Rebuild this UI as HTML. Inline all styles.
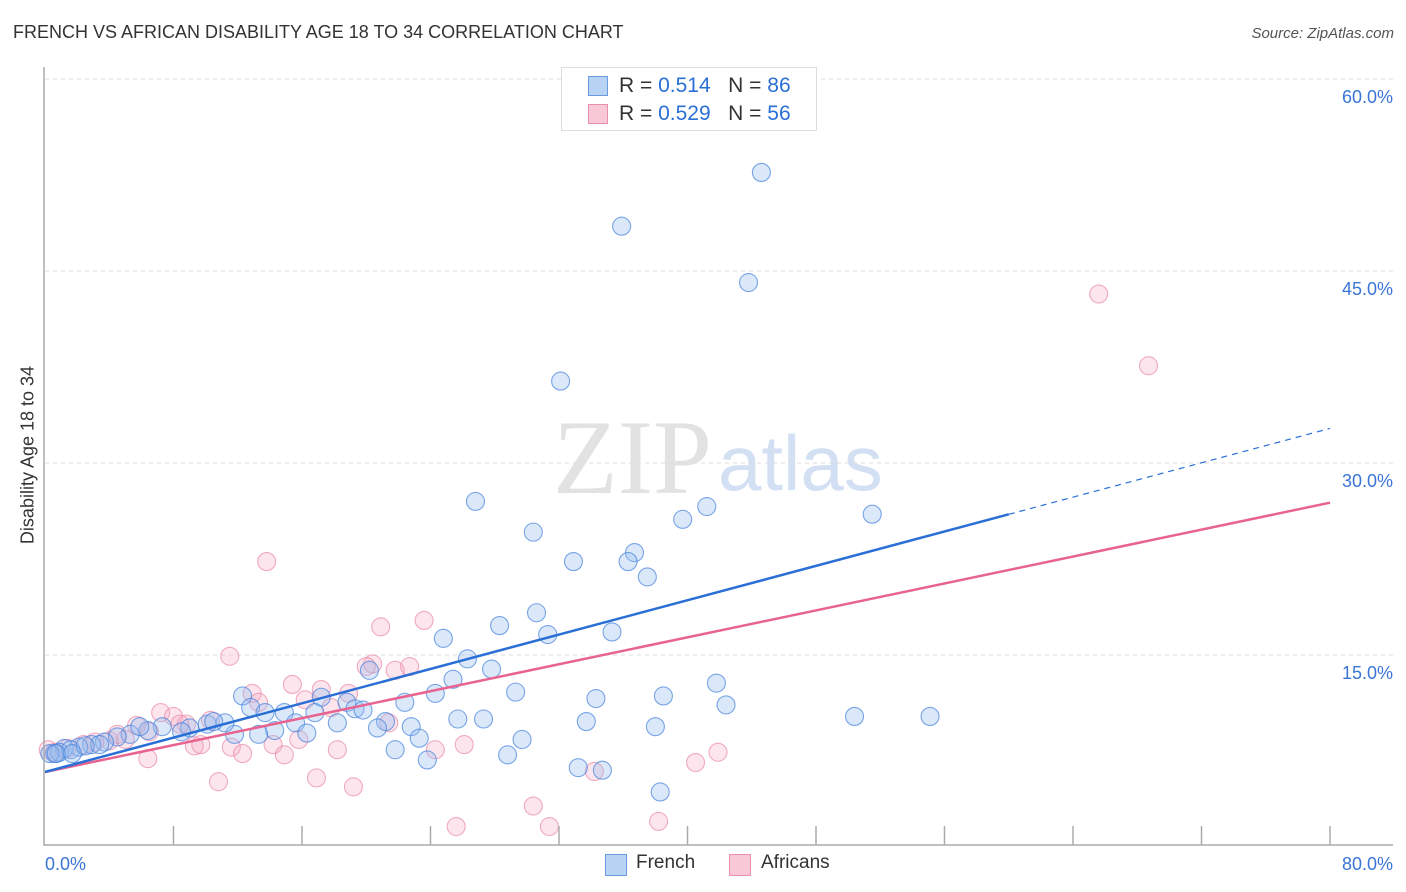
<!DOCTYPE html>
<html><head><meta charset="utf-8">
<style>
html,body{margin:0;padding:0;background:#fff;}
body{width:1406px;height:892px;position:relative;overflow:hidden;font-family:"Liberation Sans",sans-serif;}
.t{position:absolute;white-space:nowrap;}
</style></head><body>
<div class="t" style="left:13px;top:22px;font-size:18px;color:#333;">FRENCH VS AFRICAN DISABILITY AGE 18 TO 34 CORRELATION CHART</div>
<div class="t" style="right:12px;top:25px;font-size:15px;color:#555;font-style:italic;">Source: ZipAtlas.com</div>
<svg id="chart" width="1406" height="892" style="position:absolute;left:0;top:0;">
<text x="553" y="493" font-family="Liberation Serif,serif" font-size="106" fill="#e2e2e2">ZIP</text>
<text x="718" y="490" font-family="Liberation Sans,sans-serif" font-size="78" fill="#d3e0f3">atlas</text>
<g id="grid"></g><g id="marks"></g><g id="lines"></g><g id="axes"></g>
</svg>
<div style="position:absolute;left:561px;top:67px;width:254px;height:62px;border:1px solid #ddd;background:#fff;">
 <div style="position:absolute;left:26px;top:8px;width:18px;height:18px;background:#b9d3f5;border:1px solid #6a9be0;"></div>
 <div class="t" style="left:57px;top:6px;font-size:21px;color:#333;">R = <span style="color:#2a6fd6">0.514</span> &nbsp;&nbsp;N = <span style="color:#2a6fd6">86</span></div>
 <div style="position:absolute;left:26px;top:36px;width:18px;height:18px;background:#f9c8d6;border:1px solid #e890aa;"></div>
 <div class="t" style="left:57px;top:34px;font-size:21px;color:#333;">R = <span style="color:#2a6fd6">0.529</span> &nbsp;&nbsp;N = <span style="color:#2a6fd6">56</span></div>
</div>
<div style="position:absolute;left:605px;top:854px;width:20px;height:20px;background:#b9d3f5;border:1px solid #6a9be0;"></div>
<div class="t" style="left:636px;top:852px;font-size:19px;color:#333;">French</div>
<div style="position:absolute;left:729px;top:854px;width:20px;height:20px;background:#f9c8d6;border:1px solid #e890aa;"></div>
<div class="t" style="left:761px;top:852px;font-size:19px;color:#333;">Africans</div>
<div class="t" style="left:28px;top:455px;font-size:18px;color:#333;transform:translate(-50%,-50%) rotate(-90deg);">Disability Age 18 to 34</div>
<script>
const yTicks=[15,30,45,60];
const yTickLabels=["15.0%","30.0%","45.0%","60.0%"];
const xTickLabels=["0.0%","80.0%"];
const frenchX=[44.6,35.9,43.8,32.1,26.8,30.4,39.7,41.2,51.5,32.9,36.7,36.3,37.5,30.6,28.3,31.3,35.3,24.8,26.3,27.8,20.2,25.4,24.3,29.3,34.3,38.5,41.8,42.4,22.4,17.2,18.8,19.3,12.3,12.8,14.9,13.7,16.8,18.2,19.8,21.2,15.6,16.3,14.3,13.3,11.8,10.1,11.2,10.5,9.0,8.5,7.3,6.4,5.3,4.5,3.7,2.9,2.1,1.2,0.6,0.9,0.3,1.6,25.7,27.3,22.8,20.7,23.3,33.7,38.0,50.4,55.1,21.8,23.8,28.8,29.7,33.2,34.7,38.3,5.9,3.4,2.5,1.7,0.7];
const frenchY=[52.7,48.5,44.1,36.4,27.0,24.6,25.6,26.6,26.0,22.3,23.0,22.3,21.1,18.3,17.3,16.6,16.8,16.3,14.7,13.9,13.8,13.1,12.0,12.1,11.6,11.8,12.8,11.1,11.3,11.7,11.3,10.8,11.8,10.9,10.5,10.5,10.5,9.7,10.7,9.8,9.7,8.9,9.1,8.8,8.8,9.6,9.7,9.8,9.3,9.0,9.4,9.1,8.8,8.6,8.2,8.0,7.8,7.7,7.3,7.4,7.3,7.6,10.0,10.0,9.4,9.3,8.5,9.8,9.4,10.2,10.2,7.6,6.8,7.2,8.4,6.2,6.0,4.3,9.4,8.0,7.9,7.3,7.3];
const africanX=[65.6,68.7,13.8,11.5,20.9,23.6,20.4,20.0,21.8,22.7,15.4,17.2,18.9,12.9,13.3,17.8,21.4,16.2,7.2,8.0,8.8,10.3,8.4,5.7,6.5,9.3,9.7,11.6,12.3,14.2,15.8,18.2,14.9,6.4,10.8,16.9,19.2,24.3,26.1,34.2,40.5,41.9,30.4,25.6,31.4,38.2,5.0,4.0,3.1,2.4,1.4,0.6,0.2,4.5];
const africanY=[43.2,37.6,22.3,14.9,17.2,17.7,14.3,14.1,13.8,14.1,12.7,12.3,12.0,12.0,11.3,10.9,9.7,11.5,10.5,10.2,9.6,9.9,9.6,9.5,9.0,7.9,8.0,7.8,7.3,8.0,8.4,7.6,7.2,6.9,5.1,5.4,4.7,7.6,8.0,5.9,6.6,7.4,3.2,1.6,1.6,2.0,8.4,8.3,8.2,8.0,7.7,7.4,7.6,8.8];
const frenchTrend=[5.86,32.7];   // value at x=0 and x=80
const africanTrend=[5.86,26.9];
const frenchSolidEnd=60;
const NS="http://www.w3.org/2000/svg";
const X0=45,X1=1330,Y0=847,PY=12.8;
const sx=v=>X0+(v/80)*(X1-X0);
const sy=v=>Y0-v*PY;
function mk(tag,attrs,parent){const e=document.createElementNS(NS,tag);for(const k in attrs)e.setAttribute(k,attrs[k]);parent.appendChild(e);return e;}
const grid=document.getElementById('grid'),marks=document.getElementById('marks'),lines=document.getElementById('lines'),axes=document.getElementById('axes');
yTicks.forEach((t,i)=>{
 const l=mk('line',{x1:45,x2:1393,y1:sy(t),y2:sy(t),stroke:'#ddd','stroke-dasharray':'4,4'},grid);
 
 
 const tx=mk('text',{x:1393,y:sy(t)+24,'text-anchor':'end','font-size':18,fill:'#3a75d6','font-family':'Liberation Sans,sans-serif'},axes);
 tx.textContent=yTickLabels[i];
 
 
});
const ax=mk('path',{d:`M44,67 V845 H1393`,fill:'none',stroke:'#aaa','stroke-width':1.5},axes);


for(let i=1;i<=10;i++){
 const tk=mk('line',{x1:sx(i*8),x2:sx(i*8),y1:826,y2:845,stroke:'#aaa','stroke-width':1.5},axes);
 
 
}
[[0,'start',45],[80,'end',1393]].forEach((a,i)=>{
 const tx=mk('text',{x:a[2],y:870,'text-anchor':a[1],'font-size':18,fill:'#3a75d6','font-family':'Liberation Sans,sans-serif'},axes);
 tx.textContent=xTickLabels[i];
 
 
});
function pts(xs,ys,fill,stroke,name){
 xs.forEach((x,i)=>{
  const c=mk('circle',{cx:sx(x),cy:sy(ys[i]),r:9,fill:fill,stroke:stroke,'stroke-width':1.1},marks);
  
  
 });
}
pts(africanX,africanY,'rgba(246,170,194,0.3)','rgba(232,130,160,0.65)','african-point');
pts(frenchX,frenchY,'rgba(150,190,240,0.35)','rgba(70,130,220,0.7)','french-point');
const fy=x=>frenchTrend[0]+(frenchTrend[1]-frenchTrend[0])*x/80;
const ay=x=>africanTrend[0]+(africanTrend[1]-africanTrend[0])*x/80;
const l1=mk('line',{x1:sx(0),y1:sy(ay(0)),x2:sx(80),y2:sy(ay(80)),stroke:'#e8638f','stroke-width':2.5},lines);


const l2=mk('line',{x1:sx(0),y1:sy(fy(0)),x2:sx(frenchSolidEnd),y2:sy(fy(frenchSolidEnd)),stroke:'#2a6fd6','stroke-width':2.5},lines);


const l3=mk('line',{x1:sx(frenchSolidEnd),y1:sy(fy(frenchSolidEnd)),x2:sx(80),y2:sy(fy(80)),stroke:'#2a6fd6','stroke-width':1.2,'stroke-dasharray':'6,5'},lines);


</script>
</body></html>
